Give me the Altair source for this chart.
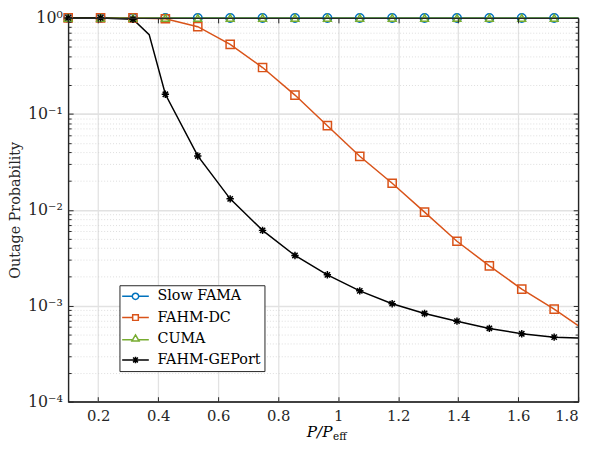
import altair as alt
import pandas as pd

# ---------------- data ----------------
series_names = ["Slow FAMA", "FAHM-DC", "CUMA", "FAHM-GEPort"]

x_markers = [0.1, 0.208, 0.316, 0.424, 0.532, 0.64, 0.748, 0.856, 0.964,
             1.072, 1.18, 1.288, 1.396, 1.504, 1.612, 1.72]

slow_fama_x = [0.1, 0.208, 0.316, 0.424, 0.532, 0.64, 0.748, 0.856, 0.964,
               1.072, 1.18, 1.288, 1.396, 1.504, 1.612, 1.72, 1.8]
slow_fama_y = [1.0, 1.0, 1.0, 1.0, 1.0, 1.0, 1.0, 1.0, 1.0,
               1.0, 1.0, 1.0, 1.0, 1.0, 1.0, 1.0, 1.0]

fahm_dc_x = [0.1, 0.208, 0.316, 0.424, 0.532, 0.64, 0.748, 0.856, 0.964,
             1.072, 1.18, 1.288, 1.396, 1.504, 1.612, 1.72, 1.8]
fahm_dc_y = [1.0, 1.0, 1.0, 0.98, 0.81, 0.53, 0.304, 0.157, 0.0753,
             0.0361, 0.0189, 0.00946, 0.0047, 0.0026, 0.00149, 0.00092, 0.00062]

cuma_x = [0.1, 0.208, 0.316, 0.424, 0.532, 0.64, 0.748, 0.856, 0.964,
          1.072, 1.18, 1.288, 1.396, 1.504, 1.612, 1.72, 1.8]
cuma_y = [1.0, 1.0, 1.0, 1.0, 1.0, 1.0, 1.0, 1.0, 1.0,
          1.0, 1.0, 1.0, 1.0, 1.0, 1.0, 1.0, 1.0]

geport_x = [0.1, 0.208, 0.316, 0.37, 0.424, 0.532, 0.64, 0.748, 0.856, 0.964,
            1.072, 1.18, 1.288, 1.396, 1.504, 1.612, 1.72, 1.8]
geport_y = [1.0, 1.0, 0.97, 0.67, 0.16, 0.0364, 0.013, 0.0061, 0.00334, 0.0021,
            0.00143, 0.00105, 0.00083, 0.00069, 0.00058, 0.00051, 0.00047, 0.00046]

x_ticks = [0.2, 0.4, 0.6, 0.8, 1.0, 1.2, 1.4, 1.6, 1.8]
y_major = [1e-4, 1e-3, 1e-2, 1e-1, 1.0]
y_labels = {1.0: "10⁰", 0.1: "10⁻¹", 0.01: "10⁻²", 0.001: "10⁻³", 0.0001: "10⁻⁴"}
y_minor = [m * d for d in [1e-4, 1e-3, 1e-2, 1e-1] for m in range(2, 10)]

colors = ["#0072BD", "#D95319", "#77AC30", "#000000"]

# ---------------- tables ----------------
rows = []
for name, xs, ys in [("Slow FAMA", slow_fama_x, slow_fama_y),
                     ("FAHM-DC", fahm_dc_x, fahm_dc_y),
                     ("CUMA", cuma_x, cuma_y),
                     ("FAHM-GEPort", geport_x, geport_y)]:
    for i, (xv, yv) in enumerate(zip(xs, ys)):
        rows.append({"series": name, "x": xv, "y": yv, "order": i,
                     "marker": any(abs(xv - m) < 1e-9 for m in x_markers),
                     "series_l": name})
df = pd.DataFrame(rows)
df_mk = df[df["marker"]]

W, H = 517, 389
FONT = "DejaVu Serif"
AXC = "#262626"

asterisk = "M-1,0L1,0M0,-1L0,1M-0.72,-0.72L0.72,0.72M-0.72,0.72L0.72,-0.72"
shape_range = ["circle", "square", "triangle-up", asterisk]
legend_shapes = [
    "M-2.6,0L-0.62,0M0.62,0L2.6,0M0.62,0A0.62,0.62,0,1,1,-0.62,0A0.62,0.62,0,1,1,0.62,0",
    "M-2.6,0L-0.55,0M0.55,0L2.6,0M-0.55,-0.55L0.55,-0.55L0.55,0.55L-0.55,0.55Z",
    "M-2.6,0.2L-0.7,0.2M0.7,0.2L2.6,0.2M0,-0.75L0.7,0.45L-0.7,0.45Z",
    "M-2.6,0L2.6,0M0,-0.65L0,0.65M-0.47,-0.47L0.47,0.47M-0.47,0.47L0.47,-0.47",
]

all_y = sorted(y_major + y_minor)
is_major = "abs(log(datum.value)/LN10 - round(log(datum.value)/LN10)) < 1e-6"
y_edge = "datum.value > 0.999 || datum.value < 0.0001001"
x_edge = "datum.value > 1.799"
label_expr = " : ".join(
    f"abs(datum.value - {k}) < {k}*1e-6 ? '{v}'" for k, v in y_labels.items()) + " : ''"

xscale = alt.Scale(domain=[0.1, 1.8], nice=False, zero=False)
yscale = alt.Scale(type="log", domain=[1e-4, 1.0], nice=False)
cscale = alt.Scale(domain=series_names, range=colors)

# ----- main layer: lines + grid + labels -----
lines = alt.Chart(df).mark_line(strokeWidth=1.5, clip=False).encode(
    x=alt.X("x:Q", scale=xscale, axis=alt.Axis(
        values=x_ticks, labelExpr="format(datum.value, '.1~f')",
        title=None, grid=True, gridColor="#e2e2e2", gridWidth=1.3,
        gridOpacity={"condition": {"test": x_edge, "value": 0}, "value": 1},
        ticks=False, domain=False, labelFont=FONT, labelFontSize=15,
        labelColor=AXC, labelPadding=7)),
    y=alt.Y("y:Q", scale=yscale, axis=alt.Axis(
        values=all_y, labelExpr=label_expr, title="Outage Probability",
        titleFont=FONT, titleFontSize=14.5, titleFontWeight="normal", titleColor=AXC,
        titleX=-53, titleBaseline="middle",
        grid=True,
        gridDash={"condition": {"test": is_major, "value": []}, "value": [1, 2]},
        gridColor={"condition": {"test": is_major, "value": "#e2e2e2"}, "value": "#cfcfcf"},
        gridWidth={"condition": {"test": is_major, "value": 1.6}, "value": 0.7},
        gridOpacity={"condition": {"test": y_edge, "value": 0}, "value": 1},
        ticks=False, domain=False, labelFont=FONT, labelFontSize=16,
        labelColor=AXC, labelPadding=6, labelBound=False, labelOverlap=False,
        labelFlush=False)),
    color=alt.Color("series:N", scale=cscale, legend=None),
    detail="series:N",
    order="order:Q",
)

points = alt.Chart(df_mk).mark_point(filled=False, opacity=1, clip=False).encode(
    x=alt.X("x:Q", scale=xscale, axis=None),
    y=alt.Y("y:Q", scale=yscale, axis=None),
    color=alt.Color("series:N", scale=cscale, legend=None),
    shape=alt.Shape("series:N", scale=alt.Scale(domain=series_names, range=shape_range), legend=None),
    size=alt.Size("series:N", scale=alt.Scale(domain=series_names, range=[75, 56, 110, 150]), legend=None),
    strokeWidth=alt.StrokeWidth("series:N", scale=alt.Scale(domain=series_names, range=[1.5, 1.5, 1.7, 2.4]), legend=None),
)

leg = dict(title=None, orient="none", legendX=52, legendY=271,
           padding=4, strokeColor=AXC, fillColor="white",
           labelFont=FONT, labelFontSize=14.5, labelColor="#000000",
           symbolSize=108, symbolStrokeWidth=1.5, symbolOpacity=1,
           symbolOffset=5, labelOffset=15, rowPadding=6.5, labelLimit=300)

legend_layer = alt.Chart(df_mk).mark_point(filled=False, opacity=0).encode(
    x=alt.X("x:Q", scale=xscale, axis=None),
    y=alt.Y("y:Q", scale=yscale, axis=None),
    color=alt.Color("series_l:N", scale=alt.Scale(domain=series_names, range=colors),
                    legend=alt.Legend(**leg)),
    shape=alt.Shape("series_l:N", scale=alt.Scale(domain=series_names, range=legend_shapes),
                    legend=alt.Legend(**leg)),
)

# inward ticks + box lines: bottom + left
ticks_a = alt.Chart(df_mk).mark_point(opacity=0).encode(
    x=alt.X("x:Q", scale=xscale, axis=alt.Axis(
        orient="top", offset=-H, values=x_ticks, labels=False, title=None,
        grid=False, domain=True, domainColor=AXC, domainWidth=1.2,
        tickSize=5, tickColor=AXC, tickWidth=1, zindex=2)),
    y=alt.Y("y:Q", scale=yscale, axis=alt.Axis(
        orient="right", offset=-W, values=all_y, labels=False, title=None,
        grid=False, domain=True, domainColor=AXC, domainWidth=1.2,
        tickColor=AXC, tickWidth=1, zindex=2,
        tickSize={"condition": {"test": is_major, "value": 5}, "value": 3})),
)
# inward ticks + box lines: top + right
ticks_b = alt.Chart(df_mk).mark_point(opacity=0).encode(
    x=alt.X("x:Q", scale=xscale, axis=alt.Axis(
        orient="bottom", offset=-H, values=x_ticks, labels=False, title=None,
        grid=False, domain=True, domainColor=AXC, domainWidth=1.2,
        tickSize=5, tickColor=AXC, tickWidth=1, zindex=2)),
    y=alt.Y("y:Q", scale=yscale, axis=alt.Axis(
        orient="left", offset=-W, values=all_y, labels=False, title=None,
        grid=False, domain=True, domainColor=AXC, domainWidth=1.2,
        tickColor=AXC, tickWidth=1, zindex=2,
        tickSize={"condition": {"test": is_major, "value": 5}, "value": 3})),
)

# x-axis title P/P_eff
title_df = pd.DataFrame({"t": ["P/P"]})
title_main = alt.Chart(title_df).mark_text(
    font=FONT, fontSize=15.5, fontStyle="italic", align="right", baseline="alphabetic",
    color="#000000").encode(text="t:N", x=alt.value(268), y=alt.value(425))
sub_df = pd.DataFrame({"t": ["eff"]})
title_sub = alt.Chart(sub_df).mark_text(
    font=FONT, fontSize=10.5, align="left", baseline="alphabetic",
    color="#000000").encode(text="t:N", x=alt.value(268.5), y=alt.value(427.5))

chart = alt.layer(
    lines, points, legend_layer, ticks_a, ticks_b, title_main, title_sub
).resolve_scale(
    color="independent", shape="independent", size="independent", strokeWidth="independent"
).resolve_axis(
    x="independent", y="independent"
).properties(
    width=W, height=H,
    autosize=alt.AutoSizeParams(type="none"),
    padding={"left": 61, "top": 7, "right": 12, "bottom": 50},
    background="white",
).configure_view(
    stroke=AXC, strokeWidth=1.2
)

chart.save("out.html", embed_options={"renderer": "svg", "actions": False})
